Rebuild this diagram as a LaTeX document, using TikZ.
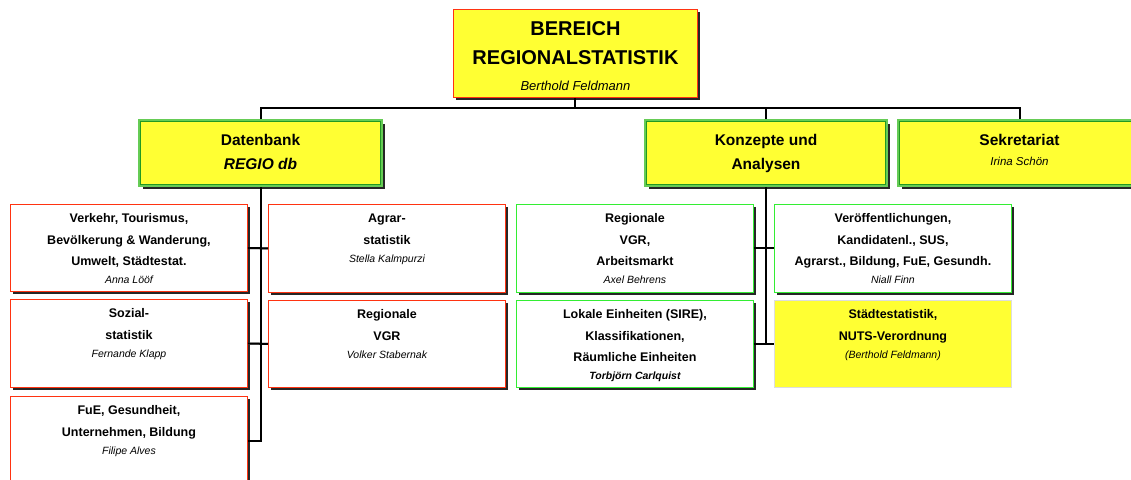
\documentclass[tikz,border=0pt]{standalone}
\usepackage{fontspec}
\setmainfont{Liberation Sans}
\usetikzlibrary{shadows,calc}
\definecolor{yel}{HTML}{FFFF33}
\definecolor{redb}{HTML}{FF3311}
\definecolor{grnb}{HTML}{33EE33}
\definecolor{lgrn}{HTML}{66CC55}
\definecolor{dgrn}{HTML}{229922}
\definecolor{gryb}{HTML}{DDDDDD}
\newcommand\st[1]{\rule{0pt}{#1}}
\newcommand\nm[1]{\\[-3.5pt]{\fontsize{10.5}{12}\selectfont\mdseries\itshape #1}}
\tikzset{
  shd/.style={drop shadow={shadow xshift=3pt, shadow yshift=-3pt, fill=black!85, opacity=1}},
  box/.style={rectangle, anchor=north west, inner sep=0pt, line width=0.9pt},
  redbox/.style={box, draw=redb, fill=white, shd},
  grnbox/.style={box, draw=grnb, fill=white, shd},
  headbox/.style={box, draw=lgrn, line width=3pt, fill=yel, shd},
  topbox/.style={box, draw=redb, fill=yel, shd},
  plainbox/.style={box, draw=gryb, fill=yel},
  lbl/.style={anchor=north, inner sep=0pt, align=center, font=\bfseries\fontsize{12.5}{21.5}\selectfont},
  hlbl/.style={anchor=north, inner sep=0pt, align=center, font=\bfseries\fontsize{15.5}{23.5}\selectfont},
  conn/.style={line width=2pt, draw=black},
  connshd/.style={line width=2pt, draw=black!50},
}
\begin{document}
\begin{tikzpicture}[x=1pt, y=-1pt]
\useasboundingbox (0,0) rectangle (1131,479);
\clip (0,0) rectangle (1131,479);
\fill[white] (0,0) rectangle (1131,479);

% top
\node[topbox, minimum width=244pt, minimum height=88pt] (top) at (453,9) {};
\node[anchor=north, inner sep=0pt, align=center, font=\bfseries\fontsize{20}{29}\selectfont] (ttop) at ([yshift=-8pt]top.north)
  {\st{18pt}BEREICH\\REGIONALSTATISTIK\\[-3pt]{\fontsize{13}{15}\selectfont\mdseries\itshape Berthold Feldmann}};

% heads
\node[headbox, minimum width=242pt, minimum height=65pt] (db) at (138,119) {};
\node[headbox, minimum width=241pt, minimum height=65pt] (kon) at (644,119) {};
\node[headbox, minimum width=242pt, minimum height=65pt] (sek) at (897,119) {};
\foreach \n in {db,kon,sek}{
  \draw[dgrn, line width=0.9pt] ([shift={(2.2,2.2)}]\n.north west) rectangle ([shift={(-2.2,-2.2)}]\n.south east);
}
\node[hlbl] (tdb) at ([yshift=-12.6pt]db.north) {\st{14pt}Datenbank\\\itshape REGIO db};
\node[hlbl] (tkon) at ([yshift=-12.6pt]kon.north) {\st{14pt}Konzepte und\\Analysen};
\node[hlbl] (tsek) at ([yshift=-12.6pt]sek.north) {\st{14pt}Sekretariat\\[-3.5pt]{\fontsize{11.5}{13}\selectfont\mdseries\itshape Irina Schön}};

% Datenbank column boxes
\node[redbox, minimum width=237pt, minimum height=87pt] (l1) at (10,204) {};
\node[redbox, minimum width=237pt, minimum height=88pt] (l2) at (10,299) {};
\node[redbox, minimum width=237pt, minimum height=90pt] (l3) at (10,396) {};
\node[redbox, minimum width=237pt, minimum height=88pt] (m1) at (268,204) {};
\node[redbox, minimum width=237pt, minimum height=87pt] (m2) at (268,300) {};
% Konzepte column boxes
\node[grnbox, minimum width=237pt, minimum height=88pt] (k1) at (516,204) {};
\node[grnbox, minimum width=237pt, minimum height=87pt] (k2) at (516,300) {};
\node[grnbox, minimum width=237pt, minimum height=88pt] (r1) at (774,204) {};
\node[plainbox, minimum width=237pt, minimum height=87pt] (r2) at (774,300) {};

\node[lbl] (tl1) at ([yshift=-6.5pt]l1.north) {\st{12pt}Verkehr, Tourismus,\\Bevölkerung \& Wanderung,\\Umwelt, Städtestat.\nm{Anna Lööf}};
\node[lbl] (tl2) at ([yshift=-6.5pt]l2.north) {\st{12pt}Sozial-\\statistik\nm{Fernande Klapp}};
\node[lbl] (tl3) at ([yshift=-6.5pt]l3.north) {\st{12pt}FuE, Gesundheit,\\Unternehmen, Bildung\nm{Filipe Alves}};
\node[lbl] (tm1) at ([yshift=-6.5pt]m1.north) {\st{12pt}Agrar-\\statistik\nm{Stella Kalmpurzi}};
\node[lbl] (tm2) at ([yshift=-6.5pt]m2.north) {\st{12pt}Regionale\\VGR\nm{Volker Stabernak}};
\node[lbl] (tk1) at ([yshift=-6.5pt]k1.north) {\st{12pt}Regionale\\VGR,\\Arbeitsmarkt\nm{Axel Behrens}};
\node[lbl] (tk2) at ([yshift=-6.5pt]k2.north) {\st{12pt}Lokale Einheiten (SIRE),\\Klassifikationen,\\Räumliche Einheiten\\[-3.5pt]{\fontsize{10.5}{12}\selectfont\itshape Torbjörn Carlquist}};
\node[lbl] (tr1) at ([yshift=-6.5pt]r1.north) {\st{12pt}Veröffentlichungen,\\Kandidatenl., SUS,\\Agrarst., Bildung, FuE, Gesundh.\nm{Niall Finn}};
\node[lbl] (tr2) at ([yshift=-6.5pt]r2.north) {\st{12pt}Städtestatistik,\\NUTS-Verordnung\nm{(Berthold Feldmann)}};

% connectors: shadows first, then lines
\coordinate (bus) at (0,108);
\begin{scope}[shift={(1.2,1.2)}]
\draw[connshd] (top.south) -- (top.south |- bus);
\draw[connshd] (db.north) -- (db.north |- bus) -- (sek.north |- bus) -- (sek.north);
\draw[connshd] (kon.north) -- (kon.north |- bus);
\draw[connshd] (db.south) |- (l3.east);
\draw[connshd] (l1.east) -- (m1.west);
\draw[connshd] (l2.east) -- (m2.west);
\draw[connshd] (kon.south) |- (k2.east);
\draw[connshd] (k1.east) -- (r1.west);
\draw[connshd] (k2.east) -- (r2.west);
\end{scope}
\draw[conn] (top.south) -- (top.south |- bus);
\draw[conn] (db.north) -- (db.north |- bus) -- (sek.north |- bus) -- (sek.north);
\draw[conn] (kon.north) -- (kon.north |- bus);
\draw[conn] (db.south) |- (l3.east);
\draw[conn] (l1.east) -- (m1.west);
\draw[conn] (l2.east) -- (m2.west);
\draw[conn] (kon.south) |- (k2.east);
\draw[conn] (k1.east) -- (r1.west);
\draw[conn] (k2.east) -- (r2.west);
\end{tikzpicture}
\end{document}
